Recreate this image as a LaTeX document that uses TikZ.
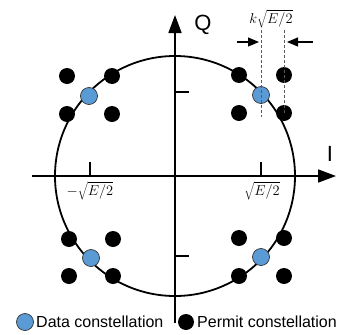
\documentclass[tikz,border=0pt]{standalone}
\usepackage{fontspec}
\setsansfont{Liberation Sans}
\usetikzlibrary{arrows.meta}
\definecolor{dblue}{RGB}{91,155,213}
\begin{document}
\begin{tikzpicture}[x=1pt,y=-1pt,
 pdot/.style={circle,fill=black,inner sep=0pt,minimum size=16pt},
 ddot/.style={circle,fill=dblue,draw=black!80,line width=0.7pt,inner sep=0pt,minimum size=17pt},
 axis/.style={line width=1.7pt,-{Triangle[length=18pt,width=13pt]}},
 lbl/.style={font=\sffamily\fontsize{22}{22}\selectfont,inner sep=0pt},
 leg/.style={font=\sffamily\fontsize{16}{16}\selectfont,anchor=west,inner sep=0pt},
 mlbl/.style={font=\fontsize{14}{14}\selectfont,inner sep=0pt},
 tickmark/.style={line width=1.6pt},
 guide/.style={gray!70!black,line width=0.9pt,dash pattern=on 3pt off 2pt},
 dimarrow/.style={line width=1.2pt,-{Triangle[length=11pt,width=9pt]}}]
\useasboundingbox (0,0) rectangle (346,335);
\coordinate (O) at (175,176);
\draw[line width=1.8pt] (O) circle [radius=120pt];
% axes
\coordinate (xl) at (32,176); \coordinate (xr) at (336,176);
\coordinate (yb) at (175,323); \coordinate (yt) at (175,15);
\draw[axis] (xl) -- (xr);
\draw[axis] (yb) -- (yt);
% ticks
\coordinate (tx1a) at (90,176); \coordinate (tx1b) at (90,162);
\coordinate (tx2a) at (261,176); \coordinate (tx2b) at (261,162);
\coordinate (ty1a) at (175,92); \coordinate (ty1b) at (189,92);
\coordinate (ty2a) at (175,256); \coordinate (ty2b) at (189,256);
\draw[tickmark] (tx1a) -- (tx1b);
\draw[tickmark] (tx2a) -- (tx2b);
\draw[tickmark] (ty1a) -- (ty1b);
\draw[tickmark] (ty2a) -- (ty2b);
% axis labels
\node[lbl] (Q) at (203,25) {Q};
\node[lbl] (I) at (330,154) {I};
\node[mlbl] (lm) at (90,191) {$-\sqrt{E/2}$};
\node[mlbl] (lp) at (262,191) {$\sqrt{E/2}$};
% permit dots
\foreach \n/\x/\y in {a1/67/76,a2/112/76,a3/67/114,a4/112/114,
                      b1/239/75,b2/284/75,b3/239/113,b4/284/113,
                      c1/69/239,c2/113/239,c3/69/276,c4/113/276,
                      d1/239/238,d2/284/238,d3/239/276,d4/284/276}
  \node[pdot] (\n) at (\x,\y) {};
% data dots
\node[ddot] (ul) at (89,96) {};
\node[ddot] (ur) at (261,95) {};
\node[ddot] (ll) at (91,258) {};
\node[ddot] (lr) at (261,257) {};
% dimension
\coordinate (g1t) at (261,30); \coordinate (g1b) at (261,117);
\coordinate (g2t) at (284,30);
\draw[guide] (g1t) -- (g1b);
\draw[guide] (g2t) -- (b4.center);
\coordinate (al) at (237,42); \coordinate (ar) at (313,42);
\coordinate (alt) at (259,42); \coordinate (art) at (287,42);
\draw[dimarrow] (al) -- (alt);
\draw[dimarrow] (ar) -- (art);
\node[mlbl] (k) at (271,19) {$k\sqrt{E/2}$};
% legend
\node[ddot] (legd) at (25,322) {};
\node[leg] (legdt) at (36,322) {Data constellation};
\node[pdot] (legp) at (186,322) {};
\node[leg] (legpt) at (197,322) {Permit constellation};
\end{tikzpicture}
\end{document}
